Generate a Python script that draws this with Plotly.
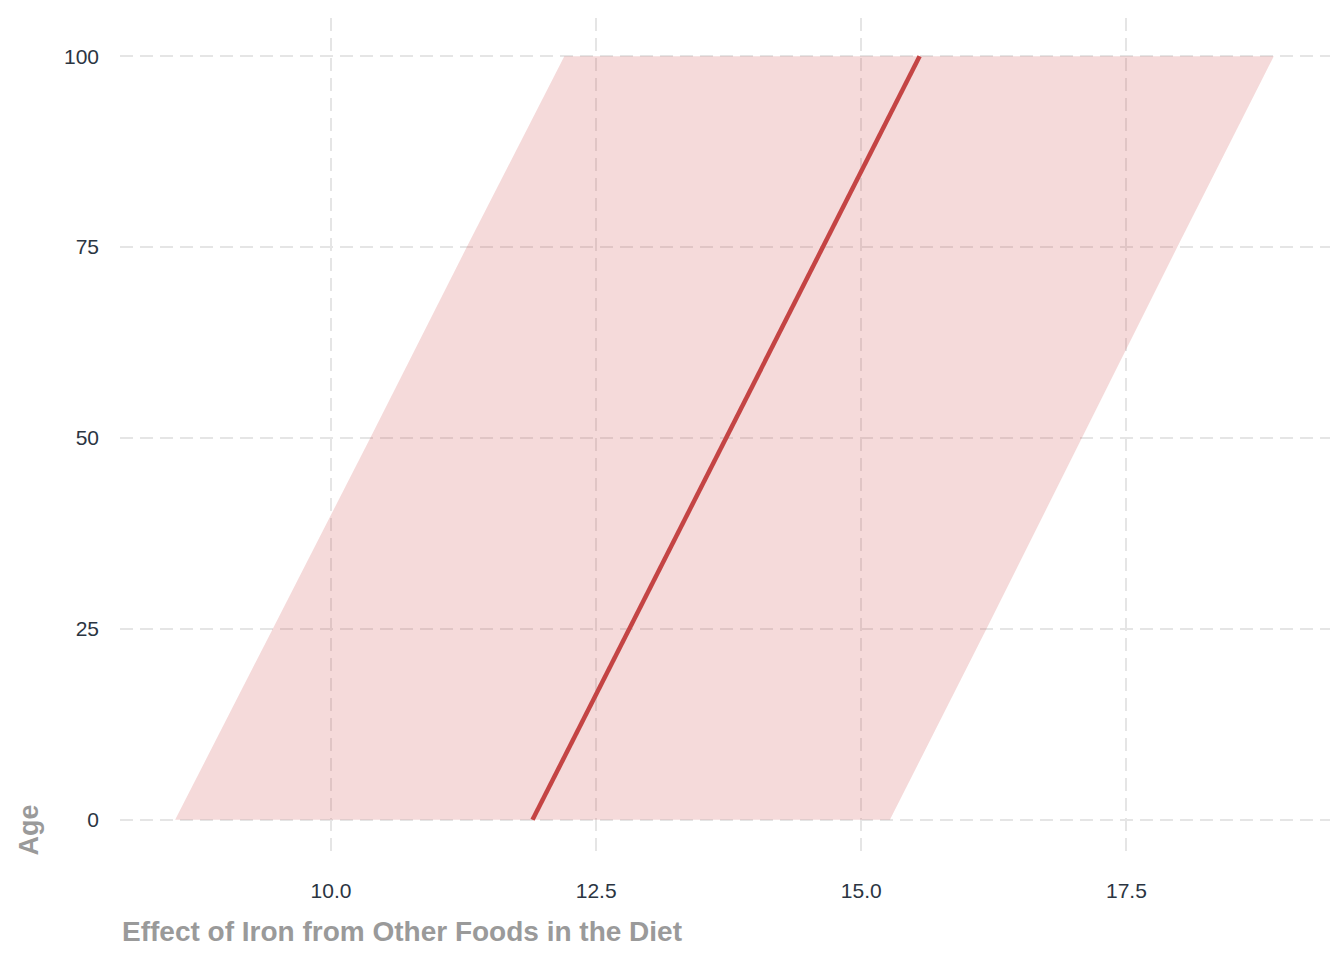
import plotly.graph_objects as go

age = [0, 25, 50, 75, 100]
effect = [11.90, 12.81, 13.73, 14.64, 15.55]
lower = [8.53, 9.45, 10.37, 11.28, 12.20]
upper = [15.27, 16.18, 17.08, 17.98, 18.89]

line_color = "#c44444"

fig = go.Figure()
fig.add_trace(go.Scatter(x=upper + lower[::-1], y=age + age[::-1], fill="toself",
                         fillcolor="rgba(204,68,68,0.2)", line=dict(width=0),
                         mode="lines", hoverinfo="skip", showlegend=False))
fig.add_trace(go.Scatter(x=effect, y=age, mode="lines",
                         line=dict(color=line_color, width=4.5), showlegend=False))

grid = dict(showgrid=True, gridcolor="#e5e5e5", griddash="13px,7px", gridwidth=2,
            zeroline=False, showline=False, ticks="")

fig.update_layout(
    width=1336, height=952,
    margin=dict(l=112, r=14, t=10, b=102),
    plot_bgcolor="white", paper_bgcolor="white",
    font=dict(family="Liberation Sans, Arial", size=21, color="#2b3542"),
    xaxis=dict(range=[8.01, 19.42], tickvals=[10, 12.5, 15, 17.5],
               ticktext=["10.0", "12.5", "15.0", "17.5"],
               ticklabelstandoff=18, **grid),
    yaxis=dict(range=[-5, 105], tickvals=[0, 25, 50, 75, 100],
               ticklabelstandoff=20, **grid),
    annotations=[
        dict(text="<b>Effect of Iron from Other Foods in the Diet</b>", xref="paper", yref="paper",
             x=0, y=-0.088, xanchor="left", yanchor="middle", showarrow=False,
             font=dict(size=28, color="#9a9a9a")),
        dict(text="<b>Age</b>", xref="paper", yref="paper", textangle=-90,
             x=-0.076, y=0, xanchor="center", yanchor="bottom", showarrow=False,
             font=dict(size=27, color="#9a9a9a")),
    ],
)

fig.write_html("out.html")
